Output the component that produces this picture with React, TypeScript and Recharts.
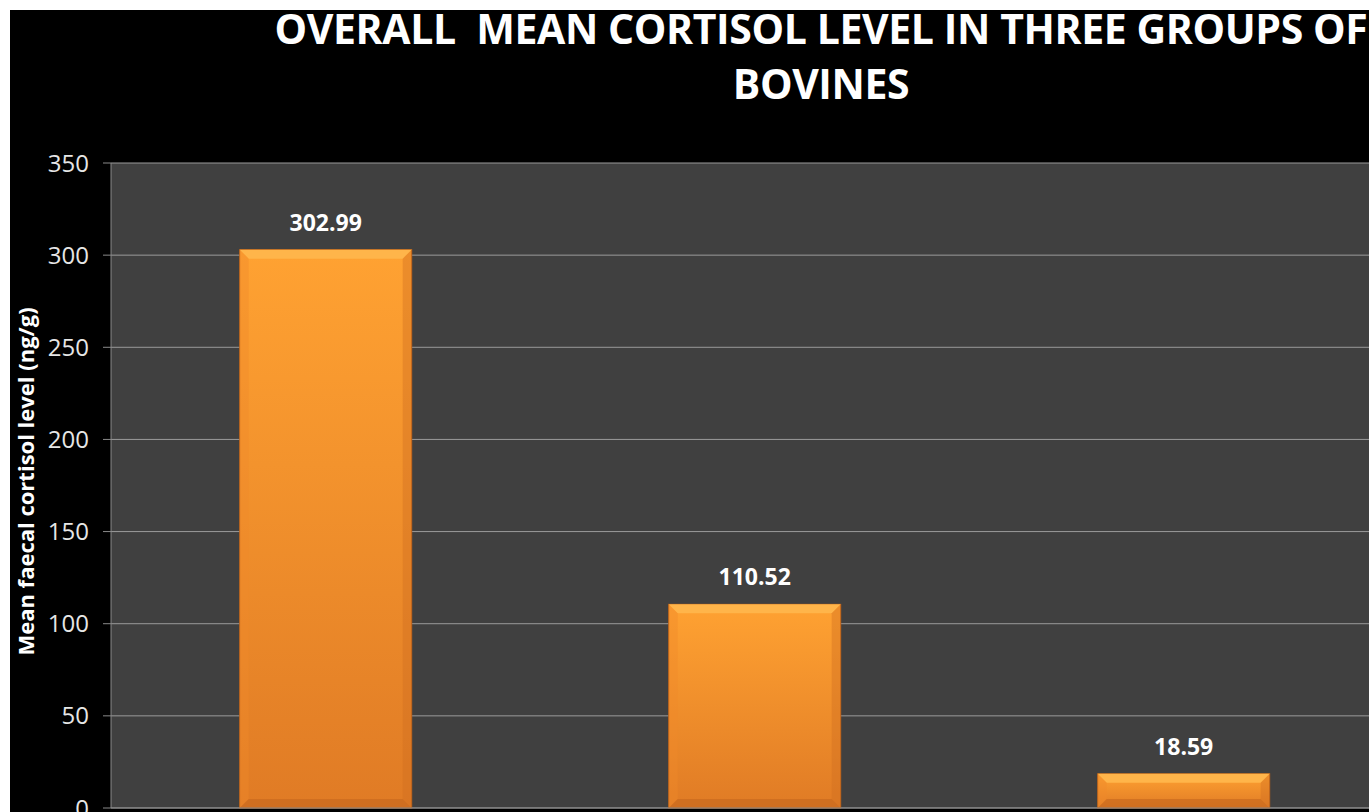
import * as React from "react";
import {
  BarChart,
  Bar,
  XAxis,
  YAxis,
  CartesianGrid,
  LabelList,
} from "recharts";

const GROUPS = ["Group 1", "Group 2", "Group 3"];
const CORTISOL = [302.99, 110.52, 18.59];
const Y_TICKS = [0, 50, 100, 150, 200, 250, 300, 350];

const rows = GROUPS.map((g, i) => ({ group: g, value: CORTISOL[i] }));

const FONT = "'Open Sans', 'DejaVu Sans', sans-serif";

// bevelled orange bar, like the Office "bevel" effect
function BevelBar(props: any) {
  const { x, y, width, height } = props;
  if (!height || height <= 0) return null;
  const b = Math.min(9, height / 3);
  return (
    <g>
      <rect x={x} y={y} width={width} height={height} fill="url(#barFill)" stroke="#b9621b" strokeWidth={1} />
      <polygon
        points={`${x},${y} ${x + width},${y} ${x + width - b},${y + b} ${x + b},${y + b}`}
        fill="#ffb54a"
      />
      <polygon
        points={`${x},${y} ${x + b},${y + b} ${x + b},${y + height - b} ${x},${y + height}`}
        fill="#f08a2a"
        opacity={0.4}
      />
      <polygon
        points={`${x + width},${y} ${x + width - b},${y + b} ${x + width - b},${y + height - b} ${x + width},${y + height}`}
        fill="#cf6e20"
        opacity={0.4}
      />
      <polygon
        points={`${x},${y + height} ${x + b},${y + height - b} ${x + width - b},${y + height - b} ${x + width},${y + height}`}
        fill="#c9691e"
        opacity={0.7}
      />
    </g>
  );
}

export default function App() {
  return (
    <div
      style={{
        position: "absolute",
        left: 10,
        top: 10,
        width: 1359,
        height: 802,
        overflow: "hidden",
        background: "#000",
        fontFamily: FONT,
      }}
    >
      <div
        style={{
          position: "absolute",
          left: 0,
          top: -9,
          width: 1622,
          textAlign: "center",
          color: "#fff",
          fontWeight: 700,
          fontSize: 41,
          lineHeight: "55px",
          whiteSpace: "pre",
          letterSpacing: -0.4,
        }}
      >
        {"OVERALL  MEAN CORTISOL LEVEL IN THREE GROUPS OF\nBOVINES"}
      </div>
      <div style={{ position: "absolute", left: 0, top: 0 }}>
        <BarChart
          width={1390}
          height={802}
          data={rows}
          margin={{ top: 153, right: 2, left: 0, bottom: 0 }}
          barCategoryGap="30%"
        >
          <defs>
            <linearGradient id="barFill" x1="0" y1="0" x2="0" y2="1">
              <stop offset="0%" stopColor="#ffa232" />
              <stop offset="100%" stopColor="#e07b25" />
            </linearGradient>
          </defs>
          <CartesianGrid
            vertical={false}
            stroke="#9a9a9a"
            strokeWidth={1}
            fill="#404040"
            fillOpacity={1}
          />
          <XAxis
            dataKey="group"
            height={4}
            tick={false}
            tickLine={false}
            axisLine={{ stroke: "#8a8a8a" }}
          />
          <YAxis
            width={101}
            domain={[0, 350]}
            ticks={Y_TICKS}
            interval={0}
            tickSize={8}
            tickMargin={14}
            tickLine={{ stroke: "#8a8a8a" }}
            axisLine={{ stroke: "#8a8a8a" }}
            tick={{ fill: "#e6e6e6", fontSize: 24, fontFamily: FONT }}
            label={{
              value: "Mean faecal cortisol level (ng/g)",
              angle: -90,
              position: "center",
              dx: -34,
              dy: -4,
              fill: "#fff",
              fontSize: 22,
              fontWeight: 700,
              fontFamily: FONT,
            }}
          />
          <Bar
            dataKey="value"
            isAnimationActive={false}
            shape={<BevelBar />}
          >
            <LabelList
              dataKey="value"
              position="top"
              offset={19}
              fill="#fff"
              fontSize={23}
              fontWeight={700}
              fontFamily={FONT}
            />
          </Bar>
        </BarChart>
      </div>
    </div>
  );
}
